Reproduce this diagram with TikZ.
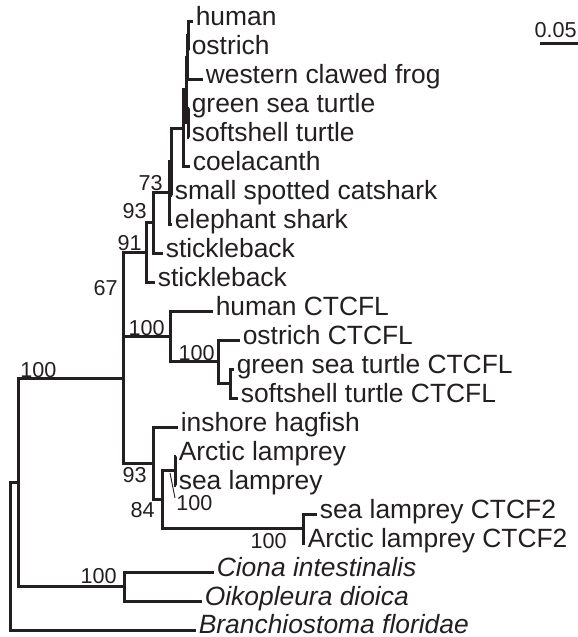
\documentclass[tikz,border=0pt]{standalone}
\usepackage{fontspec}
\setmainfont{Liberation Sans}
\definecolor{trink}{HTML}{231F20}
\tikzset{
  br/.style={line width=1.5pt,draw=trink},
  ptr/.style={line width=0.45pt,draw=trink},
  tip/.style={anchor=base west,inner sep=0pt,xshift=1.2pt,yshift=-2.3pt,text=trink,font=\fontsize{13.2}{15}\selectfont},
  tipit/.style={tip,font=\fontsize{13.2}{15}\selectfont\itshape},
  bs/.style={anchor=base east,inner sep=0pt,text=trink,font=\fontsize{10.8}{12}\selectfont},
  bsl/.style={bs,anchor=base west},
}
\begin{document}
\begin{tikzpicture}[x=0.5pt,y=-0.5pt]
  \useasboundingbox (0,0) rectangle (578,637);
  \coordinate (root) at (10,556.3); \coordinate (nA) at (18,482.7); \coordinate (nCO) at (124,586.5);
  \coordinate (n100) at (123,378.8); \coordinate (n67) at (123,294.4); \coordinate (n91) at (146,252.4);
  \coordinate (n93) at (153,222.9); \coordinate (n73) at (169,192.75); \coordinate (nX) at (171,161.5);
  \coordinate (c1) at (183,128); \coordinate (c2) at (186,89.9); \coordinate (c3) at (187,57.25);
  \coordinate (hx) at (188,35.5); \coordinate (tt) at (188,122.5);
  \coordinate (nL1) at (170,336.4); \coordinate (nL2) at (218,361.75); \coordinate (nL3) at (230,383.5);
  \coordinate (nCyc) at (153,463.25); \coordinate (n84) at (162,499.5); \coordinate (nLp) at (175,470.5);
  \coordinate (nC2) at (303,528.5);
  \coordinate (thum) at (193,21); \coordinate (tost) at (189,50); \coordinate (tfrog) at (203,79);
  \coordinate (tgst) at (189,108); \coordinate (tsst) at (189,137); \coordinate (tcoe) at (190,166);
  \coordinate (tcat) at (172,195); \coordinate (tele) at (172,224); \coordinate (tstk1) at (163,253);
  \coordinate (tstk2) at (155,282); \coordinate (thL) at (213,311); \coordinate (toL) at (240,340);
  \coordinate (tgL) at (234,369); \coordinate (tsL) at (238,398); \coordinate (thag) at (178,427);
  \coordinate (talam) at (176,456); \coordinate (tslam) at (176,485); \coordinate (tslam2) at (317,514);
  \coordinate (talam2) at (305,543); \coordinate (tcio) at (214,572); \coordinate (toik) at (202,601);
  \coordinate (tbra) at (196,630);
  \node[tip] (hum) at (thum) {human};
  \node[tip] (ost) at (tost) {ostrich};
  \node[tip] (frog) at (tfrog) {western clawed frog};
  \node[tip] (gst) at (tgst) {green sea turtle};
  \node[tip] (sst) at (tsst) {softshell turtle};
  \node[tip] (coe) at (tcoe) {coelacanth};
  \node[tip] (cat) at (tcat) {small spotted catshark};
  \node[tip] (ele) at (tele) {elephant shark};
  \node[tip] (stk1) at (tstk1) {stickleback};
  \node[tip] (stk2) at (tstk2) {stickleback};
  \node[tip] (hL) at (thL) {human CTCFL};
  \node[tip] (oL) at (toL) {ostrich CTCFL};
  \node[tip] (gL) at (tgL) {green sea turtle CTCFL};
  \node[tip] (sL) at (tsL) {softshell turtle CTCFL};
  \node[tip] (hag) at (thag) {inshore hagfish};
  \node[tip] (alam) at (talam) {Arctic lamprey};
  \node[tip] (slam) at (tslam) {sea lamprey};
  \node[tip] (slam2) at (tslam2) {sea lamprey CTCF2};
  \node[tip] (alam2) at (talam2) {Arctic lamprey CTCF2};
  \node[tipit] (cio) at (tcio) {Ciona intestinalis};
  \node[tipit] (oik) at (toik) {Oikopleura dioica};
  \node[tipit,yshift=0.8pt] (bra) at (tbra) {Branchiostoma floridae};
  \draw[br](root)|-(nA); \draw[br](root)|-(tbra);
  \draw[br](nA)|-(n100); \draw[br](nA)|-(nCO);
  \draw[br](nCO)|-(tcio); \draw[br](nCO)|-(toik);
  \draw[br](n100)|-(n67); \draw[br](n100)|-(nCyc);
  \draw[br](n67)|-(n91); \draw[br](n67)|-(nL1);
  \draw[br](n91)|-(n93); \draw[br](n91)|-(tstk2);
  \draw[br](n93)|-(n73); \draw[br](n93)|-(tstk1);
  \draw[br](n73)|-(nX); \draw[br](n73)|-(tele);
  \draw[br](nX)|-(c1); \draw[br](nX)|-(tcat);
  \draw[br](c1)|-(c2); \draw[br](c1)|-(tcoe);
  \draw[br](c2)|-(c3); \draw[br](c2)|-(tt);
  \draw[br](c3)|-(hx); \draw[br](c3)|-(tfrog);
  \draw[br](hx)|-(thum); \draw[br](hx)|-(tost);
  \draw[br](tt)|-(tgst); \draw[br](tt)|-(tsst);
  \draw[br](nL1)|-(thL); \draw[br](nL1)|-(nL2);
  \draw[br](nL2)|-(toL); \draw[br](nL2)|-(nL3);
  \draw[br](nL3)|-(tgL); \draw[br](nL3)|-(tsL);
  \draw[br](nCyc)|-(thag); \draw[br](nCyc)|-(n84);
  \draw[br](n84)|-(nLp); \draw[br](n84)|-(nC2);
  \draw[br](nLp)|-(talam); \draw[br](nLp)|-(tslam);
  \draw[br](nC2)|-(tslam2); \draw[br](nC2)|-(talam2);
  \node[bs] (s73) at (163,190) {73};
  \node[bs] (s93a) at (147,218) {93};
  \node[bs] (s91) at (142,250) {91};
  \node[bs] (s67) at (118,295) {67};
  \node[bs] (sL1) at (165,335) {100};
  \node[bs] (sL2) at (215,360) {100};
  \node[bsl] (s100) at (20,377) {100};
  \node[bs] (s93b) at (147,482) {93};
  \node[bs] (s84) at (155,517) {84};
  \node[bsl] (sLp) at (176,510) {100};
  \node[bs] (sC2) at (287,548) {100};
  \node[bs] (sCO) at (117,583) {100};
  \coordinate (pa) at (170,473); \coordinate (pb) at (175,498);
  \draw[ptr](pa)--(pb);
  \coordinate (sbA) at (540,43); \coordinate (sbB) at (577.5,43);
  \draw[br](sbA)--(sbB);
  \node[bs] (sbl) at (577,38) {0.05};
\end{tikzpicture}
\end{document}
